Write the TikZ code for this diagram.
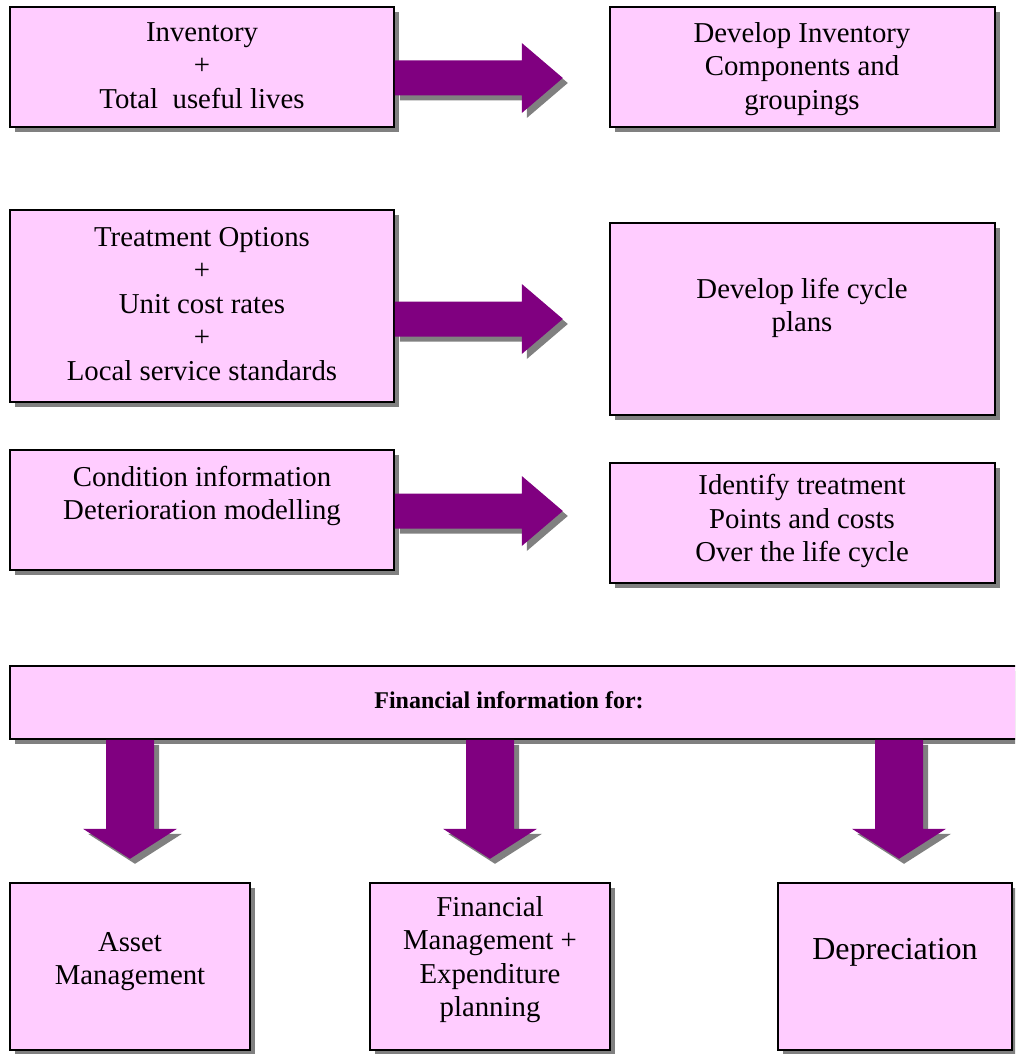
\documentclass[tikz,border=0pt]{standalone}
\usepackage{fontspec}
\setmainfont{Liberation Serif}
\usetikzlibrary{shadows,calc}
\definecolor{boxpink}{HTML}{FFCCFF}
\definecolor{arrowpurple}{HTML}{800080}
\definecolor{shadowgray}{HTML}{808080}
\tikzset{
  myshadow/.style={drop shadow={shadow xshift=5pt, shadow yshift=-5pt, fill=shadowgray, opacity=1}},
  box/.style={draw=black, line width=1.6pt, fill=boxpink, myshadow, inner sep=0pt},
  txt/.style={font=\fontsize{28.8}{33.5}\selectfont, align=center, inner sep=0pt,
    execute at begin node=\strut, execute at end node=\strut},
  blockarrow/.style={fill=arrowpurple, myshadow}
}
\begin{document}
\begin{tikzpicture}[x=1pt,y=-1pt]
\useasboundingbox (0,0) rectangle (1015,1054);
\fill[white] (0,0) rectangle (1015,1054);
\clip (0,0) rectangle (1015,1054);

% boxes
\node[box, minimum width=384pt, minimum height=120pt] (A1) at (202,67) {};
\node[box, minimum width=385pt, minimum height=120pt] (B1) at (802.5,67) {};
\node[box, minimum width=384pt, minimum height=192pt] (A2) at (202,306) {};
\node[box, minimum width=385pt, minimum height=192pt] (B2) at (802.5,319) {};
\node[box, minimum width=384pt, minimum height=120pt] (A3) at (202,510) {};
\node[box, minimum width=385pt, minimum height=120pt] (B3) at (802.5,523) {};
\node[box, minimum width=1015pt, minimum height=73pt] (F) at (517.5,702.5) {};
\node[box, minimum width=240pt, minimum height=167pt] (C1) at (130,966.5) {};
\node[box, minimum width=240pt, minimum height=167pt] (C2) at (490,966.5) {};
\node[box, minimum width=234pt, minimum height=167pt] (C3) at (895,966.5) {};

% texts
\node[txt] (tA1) at (202,70.3) {Inventory\\+\\Total\ \ useful lives};
\node[txt] (tB1) at (802,71) {Develop Inventory\\Components and\\groupings};
\node[txt] (tA2) at (202,308.8) {Treatment Options\\+\\Unit cost rates\\+\\Local service standards};
\node[txt] (tB2) at (802,310) {Develop life cycle\\plans};
\node[txt] (tA3) at (202,497.8) {Condition information\\Deterioration modelling};
\node[txt] (tB3) at (802,523) {Identify treatment\\Points and costs\\Over the life cycle};
\node[txt, font=\fontsize{24}{28}\selectfont\bfseries] (tF) at (509,702.5) {Financial information for:};
\node[txt] (tC1) at (130,963.3) {Asset\\Management};
\node[txt] (tC2) at (490,961.5) {Financial\\Management +\\Expenditure\\planning};
\node[txt, font=\fontsize{32}{36.8}\selectfont] (tC3) at (895,952.6) {Depreciation};

% right block arrows
\coordinate (r1) at (A1.east |- 0,78);
\coordinate (r2) at (A2.east |- 0,319);
\coordinate (r3) at (A3.east |- 0,511);
\foreach \s in {r1,r2,r3}{
  \fill[blockarrow] (\s) ++(0,-17.5) -- ++(127,0) -- ++(0,-17.5) -- ++(41,35)
    -- ++(-41,35) -- ++(0,-17.5) -- ++(-127,0) -- cycle;
}
% down block arrows
\coordinate (d1) at (F.south -| 130,0);
\coordinate (d2) at (F.south -| 490,0);
\coordinate (d3) at (F.south -| 899,0);
\foreach \s in {d1,d2,d3}{
  \fill[blockarrow] (\s) ++(-24,0) -- ++(0,89) -- ++(-23,0) -- ++(47,30)
    -- ++(47,-30) -- ++(-23,0) -- ++(0,-89) -- cycle;
}
\end{tikzpicture}
\end{document}
